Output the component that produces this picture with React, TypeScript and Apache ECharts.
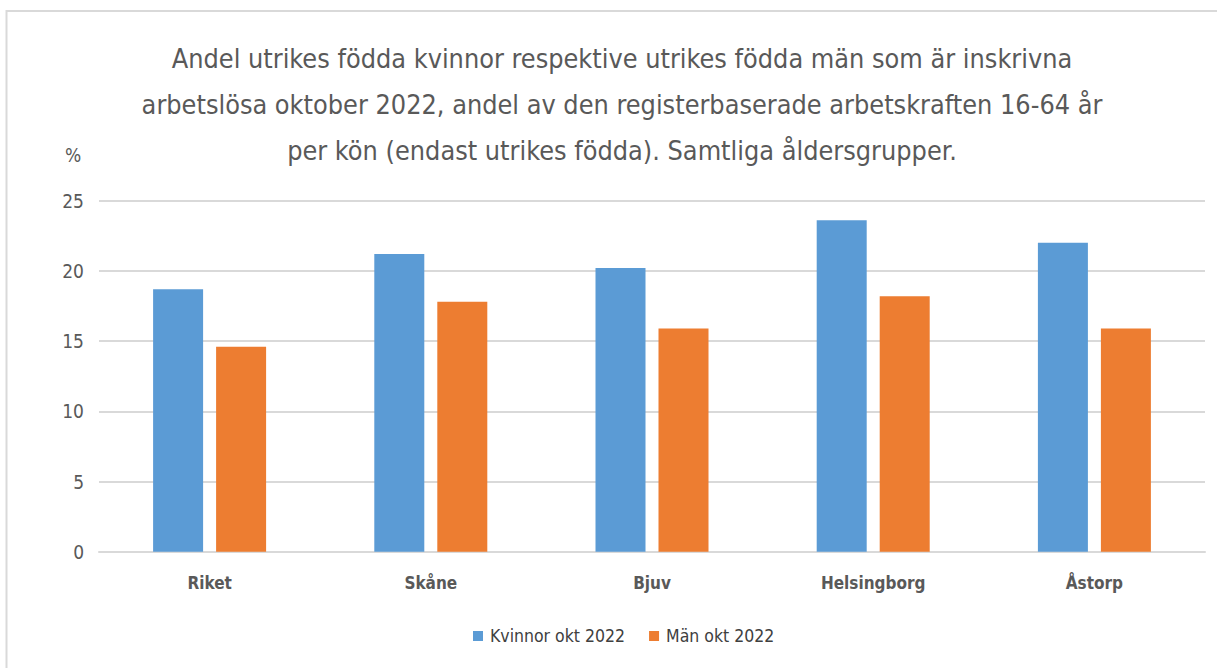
import React, { useEffect, useRef } from "react";
import * as echarts from "echarts";

const categories = ["Riket", "Skåne", "Bjuv", "Helsingborg", "Åstorp"];
const kvinnor = [18.7, 21.2, 20.2, 23.6, 22.0];
const man = [14.6, 17.8, 15.9, 18.2, 15.9];
const seriesNames = ["Kvinnor okt 2022", "Män okt 2022"];
const titleText =
  "Andel utrikes födda kvinnor respektive utrikes födda män som är inskrivna\narbetslösa oktober 2022, andel av den registerbaserade arbetskraften 16-64 år\nper kön (endast utrikes födda). Samtliga åldersgrupper.";

const FONT = "'Liberation Sans Narrow', 'DejaVu Sans Condensed', 'Open Sans', sans-serif";

export default function App() {
  const ref = useRef<HTMLDivElement>(null);
  useEffect(() => {
    if (!ref.current) return;
    const chart = echarts.init(ref.current, undefined, { renderer: "svg" });
    chart.setOption({
      animation: false,
      backgroundColor: "#ffffff",
      textStyle: { fontFamily: FONT },
      title: {
        text: titleText,
        left: 617,
        top: 30,
        textAlign: "center",
        textStyle: {
          fontFamily: FONT,
          fontSize: 26.8,
          fontWeight: "normal",
          color: "#595959",
          lineHeight: 46,
        },
      },
      graphic: [
        {
          type: "rect",
          shape: { x: 6.5, y: 11, width: 1300, height: 800 },
          style: { fill: "none", stroke: "#d9d9d9", lineWidth: 2 },
          silent: true,
        },
        {
          type: "text",
          x: 73,
          y: 155,
          style: {
            text: "%",
            fontFamily: FONT,
            fontSize: 19,
            fill: "#595959",
            align: "center",
            verticalAlign: "middle",
          },
        },
      ],
      legend: {
        data: seriesNames,
        left: 468,
        top: 622,
        icon: "rect",
        itemWidth: 10,
        itemHeight: 10,
        itemGap: 24,
        textStyle: { fontFamily: FONT, fontSize: 17.5, color: "#404040", padding: [0, 0, 0, 2] },
      },
      grid: { left: 99, right: 12, top: 200.7, bottom: 668 - 551.7, containLabel: false },
      xAxis: {
        type: "category",
        data: categories,
        axisLine: { show: true, lineStyle: { color: "#d9d9d9", width: 2 } },
        axisTick: { show: false },
        axisLabel: {
          fontFamily: FONT,
          fontSize: 17,
          fontWeight: "bold",
          color: "#595959",
          margin: 23,
        },
      },
      yAxis: {
        type: "value",
        min: 0,
        max: 25,
        interval: 5,
        axisLine: { show: false },
        axisTick: { show: false },
        axisLabel: { fontFamily: FONT, fontSize: 19, color: "#595959", margin: 15 },
        splitLine: { lineStyle: { color: "#d9d9d9", width: 2 } },
      },
      series: [
        {
          name: seriesNames[0],
          type: "bar",
          data: kvinnor,
          barWidth: 50,
          barGap: "26%",
          itemStyle: { color: "#5b9bd5" },
        },
        {
          name: seriesNames[1],
          type: "bar",
          data: man,
          barWidth: 50,
          barGap: "26%",
          itemStyle: { color: "#ed7d31" },
        },
      ],
    });
    return () => chart.dispose();
  }, []);
  return (
    <div
      ref={ref}
      style={{ position: "fixed", left: 0, top: 0, width: 1217, height: 668 }}
    />
  );
}
